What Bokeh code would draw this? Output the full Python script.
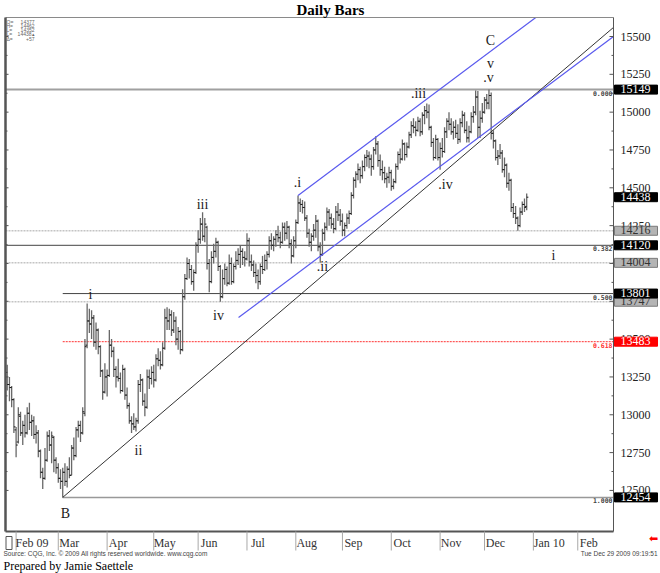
from bokeh.plotting import figure
from bokeh.models import (Range1d, LinearAxis, FixedTicker, CustomJSTickFormatter,
                          Label, ColumnDataSource)
from bokeh.core.properties import value
from bokeh.transform import dodge
from bokeh.embed import file_html
from bokeh.resources import INLINE

# ---------------- data ----------------
bar_index = list(range(-4, 231))
opens = [13280, 13200, 13180, 13100, 12900, 12820, 12990, 12880, 12930, 12880,
         13010, 12950, 12960, 12870, 12880, 12760, 12620, 12580, 12700, 12860,
         12800, 12850, 12700, 12650, 12580, 12560, 12620, 12560, 12640, 12600,
         12780, 12730, 12900, 12930, 12880, 13010, 13460, 13620, 13600, 13640,
         13480, 13560, 13450, 13290, 13150, 13250, 13260, 13460, 13420, 13300,
         13250, 13240, 13160, 13300, 13130, 13060, 12960, 12940, 12920, 12960,
         13200, 13230, 13090, 13050, 13250, 13240, 13280, 13230, 13370, 13360,
         13330, 13440, 13640, 13620, 13660, 13560, 13620, 13500, 13550, 13430,
         13780, 13900, 14000, 13960, 13880, 13940, 14120, 14160, 14260, 14180,
         14240, 14000, 13880, 14040, 14080, 14140, 13980, 13780, 13900, 13960,
         13870, 14000, 13880, 13980, 14020, 14060, 14080, 14040, 14030, 14150,
         14010, 13990, 13940, 13920, 13880, 13980, 13960, 14020, 14060, 14150,
         14120, 14160, 14190, 14170, 14140, 14240, 14200, 14240, 14130, 14050,
         14150, 14270, 14400, 14390, 14370, 14300, 14200, 14140, 14180, 14220,
         14280, 14110, 14060, 14200, 14240, 14340, 14300, 14260, 14230, 14340,
         14320, 14280, 14220, 14250, 14300, 14330, 14450, 14550, 14590, 14620,
         14580, 14640, 14700, 14710, 14690, 14640, 14750, 14790, 14680, 14620,
         14600, 14560, 14570, 14600, 14510, 14540, 14640, 14720, 14690, 14790,
         14720, 14770, 14850, 14910, 14900, 14880, 14940, 14870, 14980, 15010,
         15000, 14900, 14800, 14700, 14820, 14700, 14760, 14740, 14870, 14940,
         14920, 14870, 14900, 14860, 14820, 14930, 14980, 14880, 14830, 14870,
         14970, 15000, 15100, 14900, 14960, 15000, 15080, 15060, 15110, 14860,
         14810, 14700, 14710, 14730, 14620, 14650, 14530, 14550, 14370, 14330,
         14300, 14250, 14340, 14390, 14377]
highs = [13330, 13250, 13190, 13110, 12920, 13050, 13020, 12960, 13000, 13050,
         13080, 13000, 12990, 12930, 12900, 12770, 12650, 12780, 12890, 12900,
         12890, 12860, 12720, 12680, 12640, 12650, 12680, 12660, 12720, 12800,
         12850, 12920, 12960, 12960, 13050, 13500, 13735, 13700, 13690, 13660,
         13610, 13570, 13460, 13300, 13340, 13300, 13560, 13500, 13450, 13320,
         13370, 13280, 13330, 13310, 13180, 13080, 12990, 13010, 12980, 13230,
         13270, 13240, 13140, 13300, 13300, 13320, 13330, 13400, 13440, 13420,
         13480, 13700, 13710, 13700, 13690, 13680, 13650, 13580, 13560, 13830,
         13930, 14040, 14030, 13990, 13960, 14140, 14220, 14300, 14338, 14300,
         14250, 14030, 14080, 14130, 14170, 14150, 13990, 13960, 14000, 13980,
         14060, 14040, 14000, 14080, 14100, 14120, 14100, 14080, 14200, 14170,
         14060, 14020, 14000, 13960, 14000, 14050, 14060, 14080, 14180, 14200,
         14180, 14220, 14250, 14210, 14270, 14270, 14280, 14250, 14160, 14180,
         14290, 14449, 14430, 14420, 14410, 14320, 14230, 14200, 14260, 14320,
         14290, 14140, 14230, 14270, 14370, 14360, 14330, 14300, 14380, 14400,
         14360, 14330, 14270, 14330, 14350, 14470, 14570, 14610, 14660, 14640,
         14680, 14720, 14750, 14740, 14720, 14770, 14840, 14810, 14720, 14680,
         14640, 14600, 14640, 14620, 14560, 14660, 14740, 14760, 14820, 14800,
         14800, 14870, 14940, 14960, 14940, 14970, 14960, 15000, 15040, 15057,
         15050, 14910, 14830, 14850, 14830, 14800, 14830, 14900, 14960, 15000,
         14960, 14940, 14950, 14920, 14960, 15010, 15000, 14940, 14910, 15000,
         15040, 15143, 15140, 15010, 15060, 15100, 15120, 15149, 15130, 14880,
         14820, 14750, 14790, 14750, 14700, 14660, 14600, 14560, 14400, 14380,
         14310, 14370, 14410, 14430, 14462]
lows = [13160, 13090, 13050, 12880, 12720, 12810, 12860, 12800, 12850, 12870,
        12900, 12860, 12840, 12810, 12720, 12580, 12510, 12570, 12690, 12760,
        12680, 12620, 12610, 12550, 12510, 12454, 12530, 12520, 12580, 12600,
        12700, 12720, 12850, 12820, 12870, 12990, 13440, 13540, 13500, 13450,
        13430, 13400, 13250, 13100, 13140, 13120, 13250, 13380, 13250, 13180,
        13220, 13140, 13150, 13100, 13040, 12940, 12880, 12900, 12890, 12940,
        13150, 13060, 12990, 13040, 13170, 13200, 13180, 13220, 13320, 13300,
        13320, 13430, 13560, 13560, 13520, 13540, 13460, 13430, 13400, 13420,
        13760, 13890, 13900, 13860, 13820, 13930, 14070, 14130, 14150, 14140,
        13960, 13810, 13870, 14000, 14040, 13950, 13747, 13770, 13860, 13850,
        13860, 13860, 13870, 13960, 13990, 13970, 13990, 13980, 14020, 13980,
        13950, 13910, 13870, 13830, 13860, 13930, 13950, 13960, 14040, 14090,
        14080, 14110, 14140, 14100, 14130, 14150, 14160, 14100, 14000, 14040,
        14100, 14260, 14340, 14330, 14280, 14170, 14110, 14080, 14150, 14170,
        14080, 14004, 14050, 14150, 14220, 14250, 14230, 14200, 14220, 14280,
        14250, 14180, 14180, 14230, 14260, 14320, 14430, 14500, 14550, 14530,
        14560, 14610, 14640, 14630, 14580, 14620, 14720, 14640, 14580, 14550,
        14530, 14500, 14530, 14480, 14490, 14530, 14620, 14660, 14680, 14680,
        14700, 14760, 14830, 14860, 14840, 14870, 14840, 14850, 14920, 14960,
        14880, 14770, 14680, 14690, 14680, 14620, 14700, 14730, 14830, 14880,
        14850, 14820, 14830, 14790, 14800, 14900, 14860, 14800, 14800, 14860,
        14930, 14980, 14830, 14830, 14930, 14990, 15020, 15020, 14820, 14760,
        14680, 14650, 14690, 14600, 14570, 14500, 14480, 14340, 14300, 14260,
        14216, 14240, 14320, 14340, 14352]
closes = [13200, 13180, 13100, 12920, 12800, 13000, 12880, 12930, 12880, 13010,
          12950, 12960, 12870, 12880, 12760, 12620, 12580, 12700, 12860, 12800,
          12860, 12700, 12650, 12580, 12560, 12620, 12560, 12640, 12600, 12780,
          12730, 12900, 12930, 12880, 13020, 13450, 13620, 13600, 13640, 13480,
          13560, 13450, 13290, 13150, 13250, 13260, 13460, 13420, 13300, 13250,
          13240, 13160, 13300, 13130, 13060, 12960, 12940, 12920, 12960, 13200,
          13230, 13090, 13050, 13250, 13240, 13280, 13230, 13370, 13360, 13330,
          13440, 13640, 13620, 13660, 13560, 13620, 13500, 13550, 13430, 13780,
          13900, 14000, 13960, 13880, 13940, 14120, 14160, 14260, 14180, 14260,
          14000, 13880, 14040, 14080, 14140, 13980, 13780, 13900, 13960, 13870,
          14000, 13880, 13980, 14020, 14060, 14080, 14040, 14030, 14150, 14010,
          13990, 13940, 13920, 13880, 13980, 13960, 14020, 14060, 14150, 14120,
          14160, 14190, 14170, 14140, 14240, 14200, 14240, 14130, 14050, 14150,
          14270, 14400, 14390, 14370, 14300, 14200, 14140, 14180, 14220, 14280,
          14110, 14060, 14200, 14240, 14340, 14300, 14260, 14230, 14340, 14320,
          14280, 14220, 14250, 14300, 14330, 14450, 14550, 14590, 14620, 14580,
          14640, 14700, 14710, 14690, 14640, 14750, 14790, 14680, 14620, 14600,
          14560, 14570, 14600, 14510, 14540, 14640, 14720, 14690, 14790, 14720,
          14770, 14850, 14910, 14900, 14880, 14940, 14870, 14980, 15010, 15000,
          14900, 14800, 14700, 14820, 14700, 14760, 14740, 14870, 14940, 14920,
          14870, 14900, 14860, 14820, 14930, 14980, 14880, 14830, 14870, 14970,
          15000, 15100, 14900, 14960, 15000, 15080, 15060, 15110, 14860, 14810,
          14700, 14710, 14730, 14620, 14650, 14530, 14550, 14370, 14330, 14300,
          14250, 14340, 14390, 14370, 14438]

month_labels = ["Feb 09", "Mar", "Apr", "May", "Jun", "Jul", "Aug", "Sep",
                "Oct", "Nov", "Dec", "Jan 10", "Feb"]
month_pos = [0, 19, 41, 62, 82, 104, 126, 147, 169, 191, 211, 233, 253]

y_ticks = [12500, 12750, 13000, 13250, 13500, 13750, 14000, 14250,
           14500, 14750, 15000, 15250, 15500]
y_minor = [12625, 12875, 13125, 13375, 13625, 13875, 14125,
           14375, 14625, 14875, 15125, 15375]

# horizontal levels
level_vals = [15149, 14216, 14120, 14004, 13801, 13747, 13483, 12454]
level_from_low = [False, False, False, False, True, False, True, True]
fib_vals = [15149, 14120, 13801, 13483, 12454]
fib_text = ["0.000", "0.382", "0.500", "0.618", "1.000"]

# price boxes on the axis
box_vals = [14216, 14004, 13747, 15149, 14438, 14120, 13801, 13483, 12454]
box_kind = ["gray", "gray", "gray", "black", "black", "black", "black", "red", "black"]

# trend / channel lines (bar index, price)
trend_x = [21, 269.1]
trend_y = [12454, 15560]
lower_x = [100.2, 269.1]
lower_y = [13643, 15500]
upper_x = [127, 234.1]
upper_y = [14449, 15626]

wave_text = ["B", "i", "ii", "iii", "iv", ".i", ".ii", ".iii", ".iv", ".v", "v", "C", "i"]

info_keys = ["O=", "H=", "L=", "L=", "\u0394="]
info_vals = ["14377", "14462", "14352", "14438\u25b4", "+57"]


# ---------------- layout helpers (reference pixel -> data) ----------------
def X(px):
    return (px - 15.6) / 2.22


def Y(py):
    return 15500 - (py - 36) * 6.609


PXB = 2.22   # px per bar

wave_px = [(65, 513), (90, 294), (138, 450), (202, 204), (218, 315), (297, 182),
           (322, 266), (418, 93), (445, 184), (488, 77), (490, 63), (490, 40), (553, 255)]

SERIF = "Liberation Serif"
SANS = "Liberation Sans"
L, R, T, B = 5, 613, 17, 531      # chart box in pixels

p = figure(width=660, height=573, x_range=Range1d(X(0), X(660)), y_range=Range1d(Y(573), Y(0)),
           output_backend="svg", toolbar_location=None,
           x_axis_location=None, y_axis_location=None, min_border=0)
p.grid.visible = False
p.outline_line_color = None
p.background_fill_color = "white"
p.border_fill_color = "white"

# month axis (labels drawn up into the date band)
label_pos = [m + (2 + (3.3 * len(t) + 8) / 2) / PXB for m, t in zip(month_pos, month_labels)]
mon_ax = LinearAxis(ticker=FixedTicker(ticks=label_pos),
                    formatter=CustomJSTickFormatter(args=dict(labels=month_labels),
                                                    code="return labels[index] ?? ''"))
mon_ax.major_tick_in = 0
mon_ax.major_tick_out = 0
mon_ax.minor_tick_out = 0
mon_ax.minor_tick_in = 0
mon_ax.axis_line_color = None
mon_ax.major_tick_line_color = None
mon_ax.minor_tick_line_color = None
mon_ax.major_label_standoff = -38
mon_ax.major_label_text_font = SERIF
mon_ax.major_label_text_font_size = "12px"
mon_ax.major_label_text_color = "#333333"
p.add_layout(mon_ax, "below")

# price axis (labels drawn left into the label column)
yax = LinearAxis(ticker=FixedTicker(ticks=y_ticks))
yax.major_tick_in = 0
yax.major_tick_out = 0
yax.minor_tick_in = 0
yax.minor_tick_out = 0
yax.axis_line_color = None
yax.major_tick_line_color = None
yax.minor_tick_line_color = None
yax.major_label_standoff = -40
yax.major_label_text_font = SERIF
yax.major_label_text_font_size = "12px"
yax.major_label_text_color = "#222222"
p.add_layout(yax, "right")

# horizontal levels
level_styles = {
    15149: ("#a0a0a0", 2, "solid"),
    14216: ("#c4c4c4", 1.5, "2 1"),
    14120: ("#444444", 1, "solid"),
    14004: ("#c4c4c4", 1.5, "2 1"),
    13801: ("#444444", 1, "solid"),
    13747: ("#c4c4c4", 1.5, "2 1"),
    13483: ("#ff3030", 1, "2 1"),
    12454: ("#999999", 1.5, "solid"),
}
for v, from_low in zip(level_vals, level_from_low):
    col, w, dash = level_styles[v]
    x0 = trend_x[0] if from_low else X(L)
    p.segment(x0=[x0], y0=[v], x1=[X(R)], y1=[v], line_color=col, line_width=w, line_dash=dash)

# OHLC bars
src = ColumnDataSource(dict(x=bar_index, o=opens, h=highs, l=lows, c=closes))
p.segment(x0="x", y0="l", x1="x", y1="h", source=src, line_color="#686868", line_width=1.3)
p.segment(x0=dodge("x", -0.75), y0="o", x1="x", y1="o", source=src, line_color="#1a1a1a", line_width=1)
p.segment(x0="x", y0="c", x1=dodge("x", 0.75), y1="c", source=src, line_color="#1a1a1a", line_width=1)

# trend / channel lines
p.line(trend_x, trend_y, line_color="#333333", line_width=1)
p.line(lower_x, lower_y, line_color="#5a5aee", line_width=1.2)
p.line(upper_x, upper_y, line_color="#5a5aee", line_width=1.2)

# chart box, axis line and ticks
p.segment(x0=[X(L), X(L), X(L), X(R)], y0=[Y(T), Y(B), Y(B), Y(B)],
          x1=[X(R), X(R), X(L), X(R)], y1=[Y(T), Y(B), Y(T), Y(T)],
          line_color=["#8a8a8a", "#555555", "#555555", "#555555"], line_width=[1, 2, 2.5, 1])
p.segment(x0=[X(R) - 4 / PXB] * len(y_ticks), y0=y_ticks, x1=[X(R)] * len(y_ticks), y1=y_ticks,
          line_color="#555555", line_width=1)
p.segment(x0=[X(R) - 2 / PXB] * len(y_minor), y0=y_minor, x1=[X(R)] * len(y_minor), y1=y_minor,
          line_color="#555555", line_width=1)
p.segment(x0=[X(L)] * len(y_ticks), y0=y_ticks, x1=[X(L) + 3 / PXB] * len(y_ticks), y1=y_ticks,
          line_color="#555555", line_width=1)
p.segment(x0=[X(L)] * len(y_minor), y0=y_minor, x1=[X(L) + 2 / PXB] * len(y_minor), y1=y_minor,
          line_color="#555555", line_width=1)
# date band separators
p.segment(x0=month_pos, y0=[Y(B)] * len(month_pos), x1=month_pos, y1=[Y(550)] * len(month_pos),
          line_color="#a8a8a8", line_width=1)
p.quad(left=[X(5.5)], right=[X(11.5)], top=[Y(536)], bottom=[Y(549)], fill_color=None,
       line_color="#555555", line_width=1)

# fib labels
fib_src = ColumnDataSource(dict(x=[X(R - 1)] * len(fib_vals), y=fib_vals, t=fib_text,
                                c=["#444444", "#444444", "#444444", "#ff3030", "#444444"]))
p.text(x="x", y="y", text="t", source=fib_src, text_color="c", text_align="right",
       text_baseline="top", text_font=value("DejaVu Sans Mono"), text_font_size="6.5px",
       text_font_style="bold", y_offset=1)

# wave labels
wave_src = ColumnDataSource(dict(x=[X(a) for a, b in wave_px], y=[Y(b) for a, b in wave_px], t=wave_text))
p.text(x="x", y="y", text="t", source=wave_src, text_align="center", text_baseline="middle",
       text_font=value(SERIF), text_font_size="14px", text_color="#1a1a1a")

# price boxes on the price column
box_style = {"gray": ("#b4b4b4", "#7a7a7a", "#333333"),
             "black": ("#000000", "#000000", "#ffffff"),
             "red": ("#ff0000", "#ff0000", "#ffffff")}
for v, k in zip(box_vals, box_kind):
    bg, bd, tc = box_style[k]
    p.add_layout(Label(x=X(614), y=v, text=str(v), text_align="left", text_baseline="middle",
                       text_font=SERIF, text_font_size="12px", text_color=tc,
                       background_fill_color=bg, border_line_color=bd,
                       padding=dict(left=6, right=7, top=0, bottom=1)))

# title
p.add_layout(Label(x=X(330), y=Y(9), text="Daily Bars", text_align="center", text_baseline="middle",
                   text_font=SERIF, text_font_size="15px", text_font_style="bold",
                   text_color="#000000"))

# info box
for i, (k, v) in enumerate(zip(info_keys, info_vals)):
    yy = Y(21 + 4.3 * i)
    p.add_layout(Label(x=X(6), y=yy, text=k, text_align="left", text_baseline="middle",
                       text_font=SANS, text_font_size="5px", text_color="#666666"))
    p.add_layout(Label(x=X(34), y=yy, text=v, text_align="right", text_baseline="middle",
                       text_font=SANS, text_font_size="5px", text_color="#666666"))

# footer
p.add_layout(Label(x=X(3), y=Y(553), text="Source: CQG, Inc. \u00a9 2009 All rights reserved worldwide. www.cqg.com",
                   text_align="left", text_baseline="middle", text_font=SANS, text_font_size="6.5px",
                   text_color="#444444"))
p.add_layout(Label(x=X(657), y=Y(553), text="Tue Dec 29 2009 09:19:51", text_align="right",
                   text_baseline="middle", text_font=SANS, text_font_size="6.5px",
                   text_color="#444444"))
p.add_layout(Label(x=X(3), y=Y(565), text="Prepared by Jamie Saettele", text_align="left",
                   text_baseline="middle", text_font=SERIF, text_font_size="12px",
                   text_color="#000000"))
p.add_layout(Label(x=X(653), y=Y(538), text="\u2b05", text_align="center", text_baseline="middle",
                   text_font="DejaVu Sans", text_font_size="11px", text_color="#ff0000"))

open("out.html", "w").write(file_html(p, INLINE))
